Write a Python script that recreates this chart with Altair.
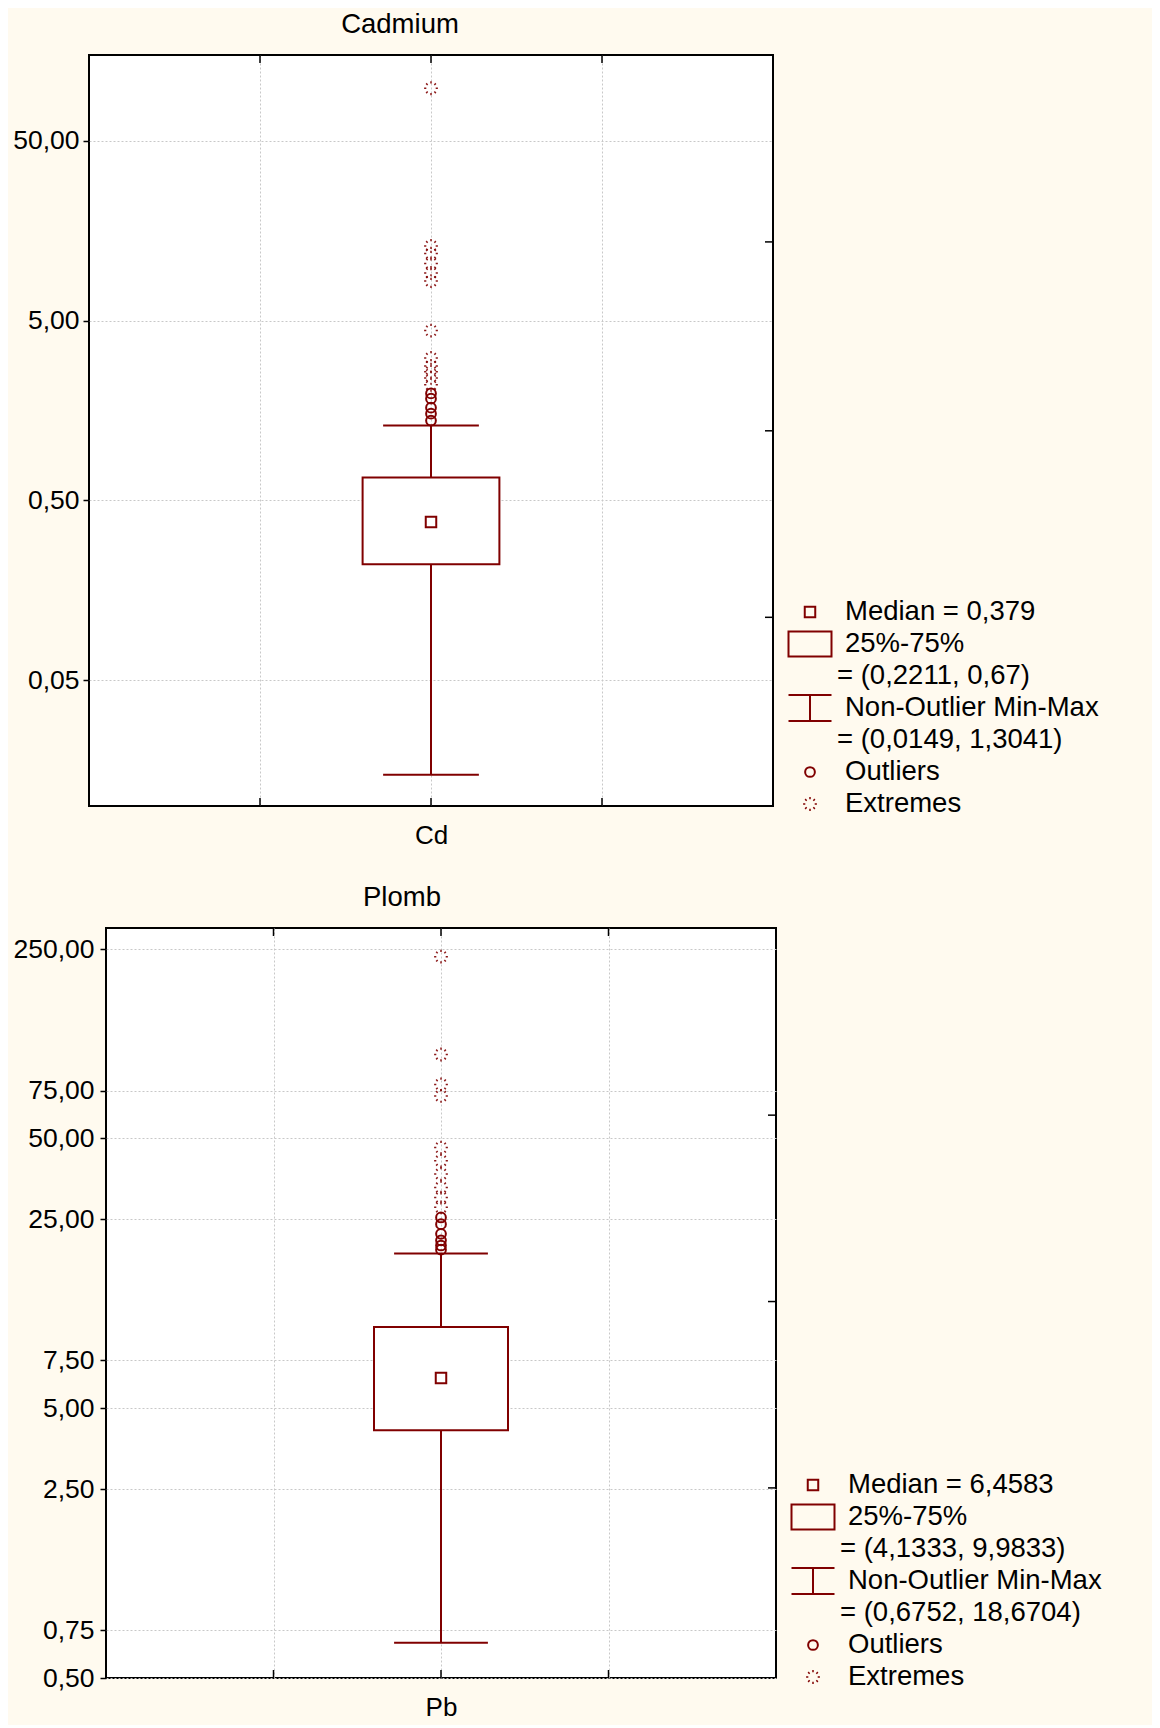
import math
import altair as alt
import pandas as pd

MAROON = "#800000"
BG = "#FFFAEF"
GRID = "#c8c8c8"
FONT = "Liberation Sans"

# ---------------- Cadmium ----------------
cd_title = "Cadmium"
cd_name = "Cd"
cd_median = 0.379
cd_q1 = 0.2211
cd_q3 = 0.67
cd_min = 0.0149
cd_max = 1.3041
cd_outliers = [1.97, 1.84, 1.64, 1.52, 1.39]
cd_extremes = [98.0, 13.0, 11.8, 10.4, 9.2, 8.3, 4.4, 3.1, 2.8, 2.6, 2.4, 2.2]
cd_domain = [0.01, 150.0]
cd_ticks = [0.05, 0.5, 5.0, 50.0]
cd_right_ticks = [13.7, 1.22, 0.112]

# ---------------- Plomb ----------------
pb_title = "Plomb"
pb_name = "Pb"
pb_median = 6.4583
pb_q1 = 4.1333
pb_q3 = 9.9833
pb_min = 0.6752
pb_max = 18.6704
pb_outliers = [25.4, 24.0, 22.1, 20.9, 20.0, 19.3]
pb_extremes = [235.0, 102.0, 79.0, 71.6, 46.1, 41.2, 36.8, 32.8, 30.1, 27.7]
pb_domain = [0.5, 300.0]
pb_ticks = [0.5, 0.75, 2.5, 5.0, 7.5, 25.0, 50.0, 75.0, 250.0]
pb_right_ticks = [60.8, 12.4, 2.53]

x_ticks = [1, 2, 3]
legend_kinds = ["median", "box", "eq", "whisker", "eq", "outlier", "extreme"]

# ---------------- styles ----------------
X_DOMAIN = [0, 4]
X_CAT = 2
BOX_HALF = 0.4
CAP_HALF = 0.28
LEG_TOP = 557
ROW_H = 32
LEG_W = 370
SYM_X = 35
TXT_X = 70
EQ_X = 62
TITLE_Y = -30

TRANSPARENT = alt.ViewBackground(fill="transparent", stroke="transparent")


def star_path(r0=0.68, r1=1.0):
    parts = []
    for k in range(8):
        a = math.pi * k / 4
        parts.append(
            f"M{r0*math.cos(a):.3f},{r0*math.sin(a):.3f}L{r1*math.cos(a):.3f},{r1*math.sin(a):.3f}"
        )
    return "".join(parts)


STAR = star_path()
SQUARE = "M-1,-1H1V1H-1Z"
BOXSYM = "M-1,-0.58H1V0.58H-1Z"
WHISK = "M-1,-0.6H1M-1,0.6H1M0,-0.6V0.6"

SYMBOLS = {
    "median": (SQUARE, 110, 2),
    "box": (BOXSYM, 1849, 2),
    "whisker": (WHISK, 1849, 2),
    "outlier": ("circle", 95, 2),
    "extreme": (STAR, 190, 1.5),
}


def fr(v):
    return str(v).replace(".", ",")


def panel(title, name, median, q1, q3, lo, hi, outliers, extremes,
          domain, ticks, right_ticks, W, H, title_dx, label_pad):
    ysc = alt.Scale(type="log", domain=domain, nice=False)
    xsc = alt.Scale(domain=X_DOMAIN, nice=False, zero=False)
    stats = pd.DataFrame({"x": [X_CAT], "median": [median], "q1": [q1],
                          "q3": [q3], "lo": [lo], "hi": [hi]})
    base = alt.Chart(stats).transform_calculate(
        xl=f"datum.x - {BOX_HALF}", xr=f"datum.x + {BOX_HALF}",
        cl=f"datum.x - {CAP_HALF}", cr=f"datum.x + {CAP_HALF}")

    xaxis = alt.Axis(values=x_ticks,
                     labelExpr=f"datum.value == {X_CAT} ? '{name}' : ''",
                     ticks=False, tickSize=0, domain=False, grid=True,
                     gridColor=GRID, gridDash=[2, 2], gridWidth=1,
                     labelFont=FONT, labelFontSize=26, labelColor="black",
                     labelPadding=16, labelFlush=False, title=None)
    yaxis = alt.Axis(values=ticks,
                     labelExpr="replace(format(datum.value, '.2f'), '.', ',')",
                     tickSize=6, tickColor="black", tickWidth=1.5,
                     domain=False, grid=True, gridColor=GRID, gridDash=[2, 2],
                     gridWidth=1, labelFont=FONT, labelFontSize=26.5,
                     labelColor="black", labelPadding=label_pad,
                     labelFlush=False, labelOverlap=False, title=None)

    def X(f):
        return alt.X(f, scale=xsc, axis=xaxis)

    def Y(f):
        return alt.Y(f, scale=ysc, axis=yaxis)

    whisker = base.mark_rule(color=MAROON, strokeWidth=2).encode(
        x=X("x:Q"), y=Y("lo:Q"), y2="hi:Q")
    cap_lo = base.mark_rule(color=MAROON, strokeWidth=2).encode(
        x=X("cl:Q"), x2="cr:Q", y=Y("lo:Q"))
    cap_hi = base.mark_rule(color=MAROON, strokeWidth=2).encode(
        x=X("cl:Q"), x2="cr:Q", y=Y("hi:Q"))
    box = base.mark_rect(fill="white", stroke=MAROON, strokeWidth=2).encode(
        x=X("xl:Q"), x2="xr:Q", y=Y("q1:Q"), y2="q3:Q")
    med = base.mark_point(shape=SQUARE, filled=False, color=MAROON, size=110,
                          strokeWidth=2, opacity=1).encode(
        x=X("x:Q"), y=Y("median:Q"))

    out = alt.Chart(pd.DataFrame({"v": outliers})).transform_calculate(
        x=f"{X_CAT}").mark_point(shape="circle", filled=False, color=MAROON,
                                 size=95, strokeWidth=2, opacity=1).encode(
        x=X("x:Q"), y=Y("v:Q"))
    ext = alt.Chart(pd.DataFrame({"v": extremes})).transform_calculate(
        x=f"{X_CAT}").mark_point(shape=STAR, filled=False, color=MAROON,
                                 size=190, strokeWidth=1.5, opacity=0.9).encode(
        x=X("x:Q"), y=Y("v:Q"))

    tdf = pd.DataFrame({"t": x_ticks})
    bot_ticks = alt.Chart(tdf).mark_rule(color="black", strokeWidth=1.5).encode(
        x=X("t:Q"), y=alt.value(H), y2=alt.value(H - 8))
    top_ticks = alt.Chart(tdf).mark_rule(color="black", strokeWidth=1.5).encode(
        x=X("t:Q"), y=alt.value(0), y2=alt.value(8))
    rt = alt.Chart(pd.DataFrame({"r": right_ticks})).mark_rule(
        color="black", strokeWidth=1.5).encode(
        y=Y("r:Q"), x=alt.value(W), x2=alt.value(W - 8))

    ttl = alt.Chart(pd.DataFrame({"t": [title]})).mark_text(
        font=FONT, fontSize=27.5, color="black", align="center",
        baseline="middle").encode(
        text="t:N", x=alt.value(W / 2 + title_dx), y=alt.value(TITLE_Y))

    return alt.layer(whisker, box, cap_lo, cap_hi, med, out, ext,
                     bot_ticks, top_ticks, rt, ttl).properties(
        width=W, height=H,
        view=alt.ViewBackground(fill="white", stroke="black", strokeWidth=2))


def legend(median, q1, q3, lo, hi, H):
    texts = [f"Median = {fr(median)}", "25%-75%", f"= ({fr(q1)}, {fr(q3)})",
             "Non-Outlier Min-Max", f"= ({fr(lo)}, {fr(hi)})", "Outliers",
             "Extremes"]
    df = pd.DataFrame({"row": list(range(len(texts))), "text": texts,
                       "kind": legend_kinds})
    d0 = -LEG_TOP / ROW_H
    ysc = alt.Scale(domain=[d0, d0 + H / ROW_H], reverse=True, nice=False,
                    zero=False)
    base = alt.Chart(df)
    layers = []
    for kind, (shape, size, sw) in SYMBOLS.items():
        layers.append(base.transform_filter(f"datum.kind == '{kind}'").mark_point(
            filled=False, color=MAROON, opacity=1, shape=shape, size=size,
            strokeWidth=sw).encode(
            x=alt.value(SYM_X), y=alt.Y("row:Q", scale=ysc, axis=None)))
    main = base.transform_filter("datum.kind != 'eq'").mark_text(
        align="left", baseline="middle", font=FONT, fontSize=27.5,
        color="black").encode(
        x=alt.value(TXT_X), y=alt.Y("row:Q", scale=ysc, axis=None),
        text="text:N")
    eq = base.transform_filter("datum.kind == 'eq'").mark_text(
        align="left", baseline="middle", font=FONT, fontSize=27.5,
        color="black").encode(
        x=alt.value(EQ_X), y=alt.Y("row:Q", scale=ysc, axis=None),
        text="text:N")
    return alt.layer(*layers, main, eq).properties(
        width=LEG_W, height=H, view=TRANSPARENT)


def spacer():
    return alt.Chart(pd.DataFrame({"s": [0]})).mark_point(
        opacity=0, size=1).encode(x=alt.value(0), y=alt.value(0)).properties(
        width=1, height=1, view=TRANSPARENT)


H1, W1 = 751, 684
H2, W2 = 750, 670

top = alt.hconcat(
    spacer(),
    panel(cd_title, cd_name, cd_median, cd_q1, cd_q3, cd_min, cd_max,
          cd_outliers, cd_extremes, cd_domain, cd_ticks, cd_right_ticks,
          W1, H1, -31, 4),
    legend(cd_median, cd_q1, cd_q3, cd_min, cd_max, H1),
    spacing=0)
bottom = alt.hconcat(
    spacer(),
    panel(pb_title, pb_name, pb_median, pb_q1, pb_q3, pb_min, pb_max,
          pb_outliers, pb_extremes, pb_domain, pb_ticks, pb_right_ticks,
          W2, H2, -39, 6),
    legend(pb_median, pb_q1, pb_q3, pb_min, pb_max, H2),
    spacing=0)

chart = alt.vconcat(top, bottom, spacing=34).configure(
    background=BG).configure_view(strokeWidth=0).properties(
    padding={"left": 1, "top": 2, "right": 4, "bottom": 4})

chart.save("out.html", embed_options={"renderer": "svg", "actions": False})
